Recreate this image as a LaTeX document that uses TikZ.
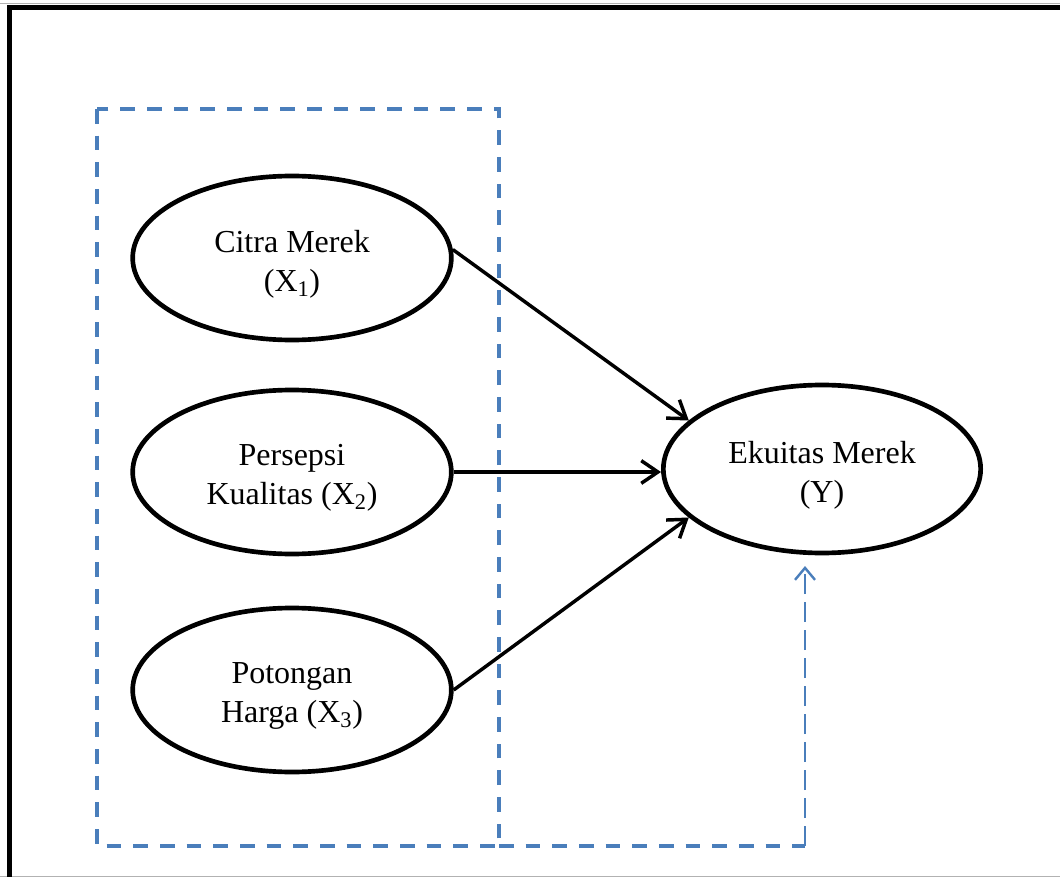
\documentclass[tikz,border=0pt]{standalone}
\usepackage{fontspec}
\setmainfont{Liberation Serif}
\usetikzlibrary{shapes.geometric,arrows.meta}
\definecolor{dblue}{HTML}{4A7EBB}
\begin{document}
\begin{tikzpicture}[x=0.75pt,y=-0.75pt,
  var/.style={ellipse, draw, line width=3.5pt, minimum width=239pt, minimum height=123pt,
    inner sep=0pt},
  vtext/.style={align=center, font=\fontsize{24}{29.5}\selectfont, yshift=-4.5pt},
  conn/.style={line width=2.6pt, -{Straight Barb[length=12.5pt,width=17pt,line width=2.6pt]}},
  dashrect/.style={draw=dblue, line width=3pt, dash pattern=on 11pt off 9pt},
  dasharrow/.style={draw=dblue, line width=1.8pt, dash pattern=on 15pt off 6pt,
    -{Straight Barb[length=9pt,width=15pt,line width=1.8pt]}},
  frame/.style={line width=3.75pt},
  edge/.style={draw=black!30, line width=0.75pt}
]
\useasboundingbox (0,0) rectangle (1060,877);
\begin{scope}
  \clip (0,0) rectangle (1060,877);
  \draw[edge] (0,3.5) -- (1060,3.5);
  \draw[edge] (0,876.5) -- (1060,876.5);
  \draw[frame] (9.5,1000) |- (1100,8);
\end{scope}

% dashed grouping box
\draw[dashrect] (97,109) rectangle (499,846);
\coordinate (turn) at (805,846);
\draw[dashrect] (499,846) -- (turn);

% variables
\node[var, label={[vtext]center:Citra Merek\\(X\textsubscript{1})}] (c1) at (292,258) {};
\node[var, label={[vtext]center:Persepsi\\Kualitas (X\textsubscript{2})}] (c2) at (292,472) {};
\node[var, label={[vtext]center:Potongan\\Harga (X\textsubscript{3})}] (c3) at (292,690) {};
\node[var, minimum width=238pt, minimum height=126pt,
  label={[vtext]center:Ekuitas Merek\\(Y)}] (Y) at (822,469) {};

% connectors
\draw[conn] (c1.3) -- (Y.160.5);
\draw[conn] (c2.east) -- (c2.east -| Y.west);
\draw[conn] (c3.east) -- (Y.200.5);
\draw[dasharrow] (turn) -- ([yshift=-8pt]Y.south -| turn);
\end{tikzpicture}
\end{document}
